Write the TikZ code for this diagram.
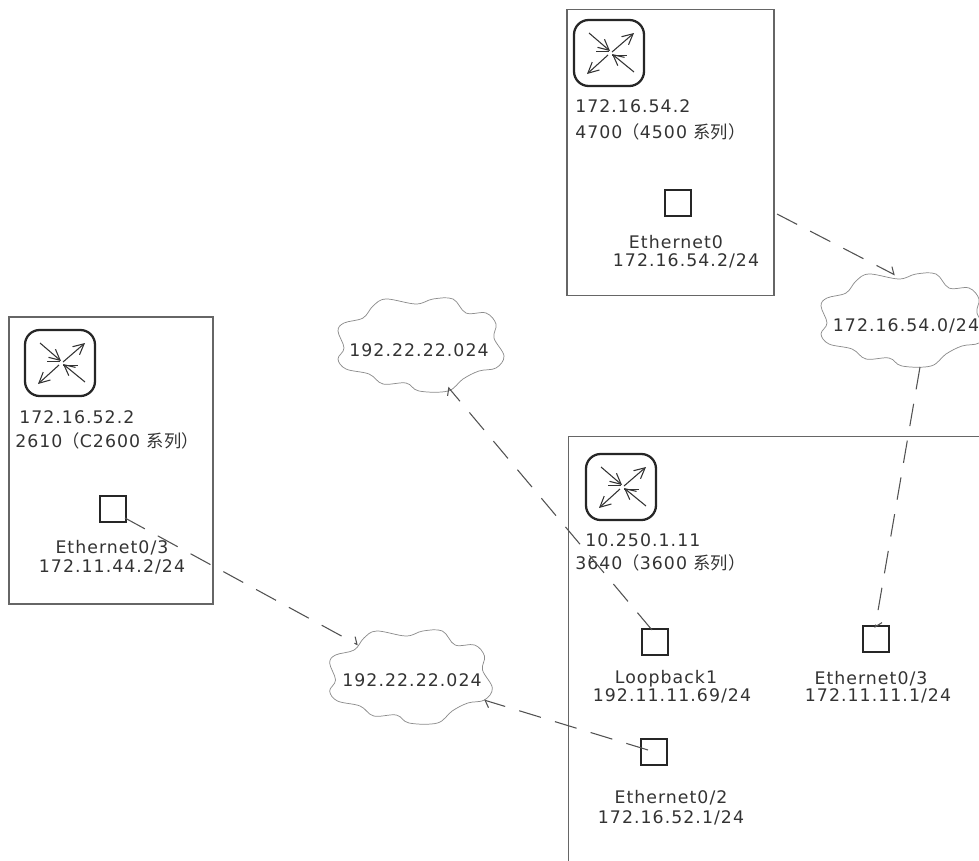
\documentclass[tikz,border=0pt]{standalone}
\usepackage{fontspec}
\setmainfont{DejaVu Sans}[LetterSpace=6]
\newfontfamily\cjk{Noto Sans CJK SC}
\usetikzlibrary{arrows.meta}
\definecolor{ink}{gray}{0.2}
\tikzset{
  x=0.75pt,y=-0.75pt,
  devbox/.style={draw=ink!75!white,line width=0.9pt,fill=none},
  port/.style={draw=black!85,line width=1.5pt,minimum size=19.5pt,inner sep=0pt,fill=none},
  lab/.style={font=\fontsize{13pt}{15pt}\selectfont,text=ink,inner sep=0pt},
  leftlab/.style={lab,anchor=west},
  link/.style={draw=ink!85!white,line width=0.8pt,dash pattern=on 17pt off 11pt,-{Straight Barb[left,length=4pt,width=9pt]}},
  cloudline/.style={draw=gray!90,line width=0.55pt},
  routerbody/.style={draw=black!85,line width=1.7pt,rounded corners=11pt},
  routerarrow/.style={draw=ink,line width=0.8pt,-{Straight Barb[length=8pt,width=8pt]}}
}
\newcommand{\routericon}[1]{%
  \begin{scope}[shift={(#1)}]
    \draw[routerbody] (-35,-33) rectangle (35,33);
    \draw[routerarrow] (-20,-20) -- (1,-2);
    \draw[routerarrow] (3,-1) -- (25,-20);
    \draw[routerarrow] (-1,2) -- (-22,21);
    \draw[routerarrow] (25,19) -- (3,1);
    \draw[draw=ink,line width=0.6pt] (-13,-2) -- (0,-2) (3,2) -- (18,2);
  \end{scope}}
\newcommand{\cloudcurve}[2]{%
  \begin{scope}[shift={(#1)},xscale=#2]
    \draw[cloudline] plot[smooth cycle,tension=0.6] coordinates {
      (-83,-14) (-77,-22) (-58,-27) (-48,-39) (-35,-46) (-5,-41) (12,-46) (32,-46)
      (45,-32) (65,-32) (75,-21) (73,-7) (83,11) (75,23) (58,26) (42,34) (27,46)
      (-2,46) (-15,38) (-38,39) (-52,29) (-75,24) (-83,14) (-77,3)};
  \end{scope}}
\begin{document}
\begin{tikzpicture}
\useasboundingbox (0,0) rectangle (979,861);
\clip (0,0) rectangle (979,861);
% device boxes
\node[devbox,minimum width=155.25pt,minimum height=214.5pt,inner sep=0pt] (boxA) at (670.5,152.5) {};
\node[devbox,minimum width=153pt,minimum height=215.25pt,inner sep=0pt] (boxB) at (111,460.5) {};
\node[devbox,minimum width=400pt,minimum height=400pt,inner sep=0pt,anchor=north west] (boxC) at (568,436) {};
% routers
\routericon{609,53}
\routericon{60,363}
\routericon{621,487}
% clouds
\cloudcurve{421,345}{1}
\cloudcurve{411,677}{0.98}
\cloudcurve{904,320}{1}
\node[lab] (cloudtop) at (419,350) {192.22.22.024};
\node[lab] (cloudlow) at (412,680) {192.22.22.024};
\node[lab] (cloudright) at (906,326) {172.16.54.0/24};
% device A
\node[leftlab] (ipA) at (575,106) {172.16.54.2};
\node[leftlab] (modelA) at (575,132) {4700{\cjk（}4500 {\cjk 系列）}};
\node[port] (portA) at (678,203) {};
\node[lab] (ifA) at (676,242) {Ethernet0};
\node[lab] (addrA) at (686,261) {172.16.54.2/24};
% device B
\node[leftlab] (ipB) at (19,417) {172.16.52.2};
\node[leftlab] (modelB) at (15,441) {2610{\cjk（}C2600 {\cjk 系列）}};
\node[port] (portB) at (113,509) {};
\node[lab] (ifB) at (112,548) {Ethernet0/3};
\node[lab] (addrB) at (112,567) {172.11.44.2/24};
% device C
\node[leftlab] (ipC) at (585,540) {10.250.1.11};
\node[leftlab] (modelC) at (575,563) {3640{\cjk（}3600 {\cjk 系列）}};
\node[port] (portLo) at (655,642) {};
\node[lab] (ifLo) at (666,679) {Loopback1};
\node[lab] (addrLo) at (672,696) {192.11.11.69/24};
\node[port] (portE3) at (876,639) {};
\node[lab] (ifE3) at (871,679) {Ethernet0/3};
\node[lab] (addrE3) at (878,696) {172.11.11.1/24};
\node[port] (portE2) at (654,752) {};
\node[lab] (ifE2) at (671,798) {Ethernet0/2};
\node[lab] (addrE2) at (671,818) {172.16.52.1/24};
% connector ends on clouds and boxes
\coordinate (endA) at (777,214);
\coordinate (endR1) at (895,275);
\coordinate (endR2) at (920,367);
\coordinate (endT) at (448,387);
\coordinate (endL1) at (358,645);
\coordinate (endL2) at (484,700);
\coordinate (inLo) at (652,630);
\coordinate (inE3) at (875,628);
\coordinate (inB) at (125,518);
\coordinate (inE2) at (648,750);
% connectors
\draw[link] (endA) -- (endR1);
\draw[link] (endR2) -- (inE3);
\draw[link] (inLo) -- (endT);
\draw[link] (inB) -- (endL1);
\draw[link] (inE2) -- (endL2);
\end{tikzpicture}
\end{document}
